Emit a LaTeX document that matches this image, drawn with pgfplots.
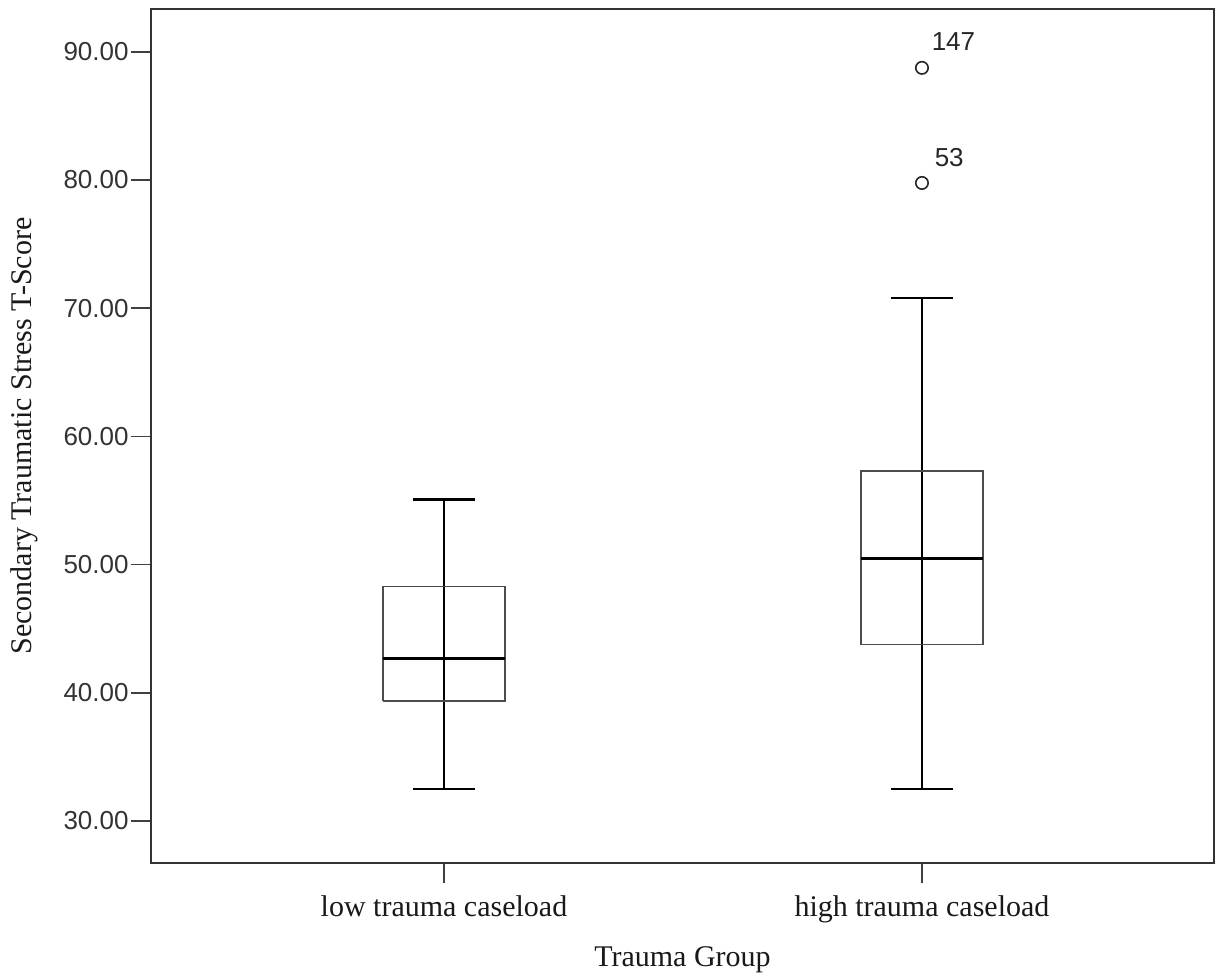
\documentclass[border=0pt]{standalone}
\usepackage{fontspec}
\setmainfont{Liberation Serif}
\newfontfamily\ticksf{Liberation Sans}
\usepackage{pgfplots}
\pgfplotsset{compat=1.18}
\begin{document}
\begin{tikzpicture}
\useasboundingbox (-75.5pt,-56pt) rectangle (534pt,431.5pt);
\begin{axis}[
  scale only axis, width=531.5pt, height=427pt,
  xmin=0.387, xmax=2.611, ymin=26.72, ymax=93.34,
  clip=false,
  axis line style={draw=black!80, line width=0.8pt},
  xtick={1,2}, xticklabels={low trauma caseload, high trauma caseload},
  ytick={30,40,50,60,70,80,90},
  yticklabels={30.00,40.00,50.00,60.00,70.00,80.00,90.00},
  minor tick num=0,
  tick align=outside, major tick length=10pt,
  xtick pos=left, ytick pos=left,
  tick style={draw=black!75, line width=0.8pt},
  yticklabel style={font=\ticksf\fontsize{13}{15}\selectfont, text=black!80, inner xsep=1pt},
  xticklabel style={font=\fontsize{15}{18}\selectfont, text=black!90, yshift=-3pt},
  ylabel={Secondary Traumatic Stress T-Score},
  ylabel style={at={(axis description cs:-0.1195,0.5)}, anchor=center, font=\fontsize{15}{18}\selectfont, text=black!90},
  xlabel={Trauma Group},
  xlabel style={at={(axis description cs:0.5,-0.1217)}, anchor=base, font=\fontsize{15}{18}\selectfont, text=black!90},
]
% whiskers (vertical line through box)
\addplot[black, line width=1.2pt] coordinates {(1,32.5) (1,55.08)};
\addplot[black, line width=1.2pt] coordinates {(2,32.5) (2,70.8)};
% whisker caps
\addplot[black, line width=1.2pt] coordinates {(0.936,32.5) (1.064,32.5)};
\addplot[black, line width=1.2pt] coordinates {(0.936,55.08) (1.064,55.08)};
\addplot[black, line width=1.2pt] coordinates {(1.936,32.5) (2.064,32.5)};
\addplot[black, line width=1.2pt] coordinates {(1.936,70.8) (2.064,70.8)};
% boxes
\addplot[draw=black!70, line width=0.75pt] coordinates {(0.8725,39.35) (1.1275,39.35) (1.1275,48.3) (0.8725,48.3) (0.8725,39.35)};
\addplot[draw=black!70, line width=0.75pt] coordinates {(1.8725,43.75) (2.1275,43.75) (2.1275,57.3) (1.8725,57.3) (1.8725,43.75)};
% medians
\addplot[black, line width=1.7pt] coordinates {(0.8725,42.66) (1.1275,42.66)};
\addplot[black, line width=1.6pt] coordinates {(1.8725,50.5) (2.1275,50.5)};
% outliers
\addplot[only marks, mark=o, mark size=3.1pt, line width=0.8pt, black!85,
  nodes near coords, point meta=explicit symbolic,
  nodes near coords style={anchor=south west, inner sep=0pt, xshift=4.5pt, yshift=8.5pt,
    font=\ticksf\fontsize{13}{15}\selectfont, text=black!85}]
  table[meta=label] {
x y label
2 88.75 147
};
\addplot[only marks, mark=o, mark size=3.1pt, line width=0.8pt, black!85,
  nodes near coords, point meta=explicit symbolic,
  nodes near coords style={anchor=south west, inner sep=0pt, xshift=6pt, yshift=7.5pt,
    font=\ticksf\fontsize{13}{15}\selectfont, text=black!85}]
  table[meta=label] {
x y label
2 79.77 53
};
\end{axis}
\end{tikzpicture}
\end{document}
